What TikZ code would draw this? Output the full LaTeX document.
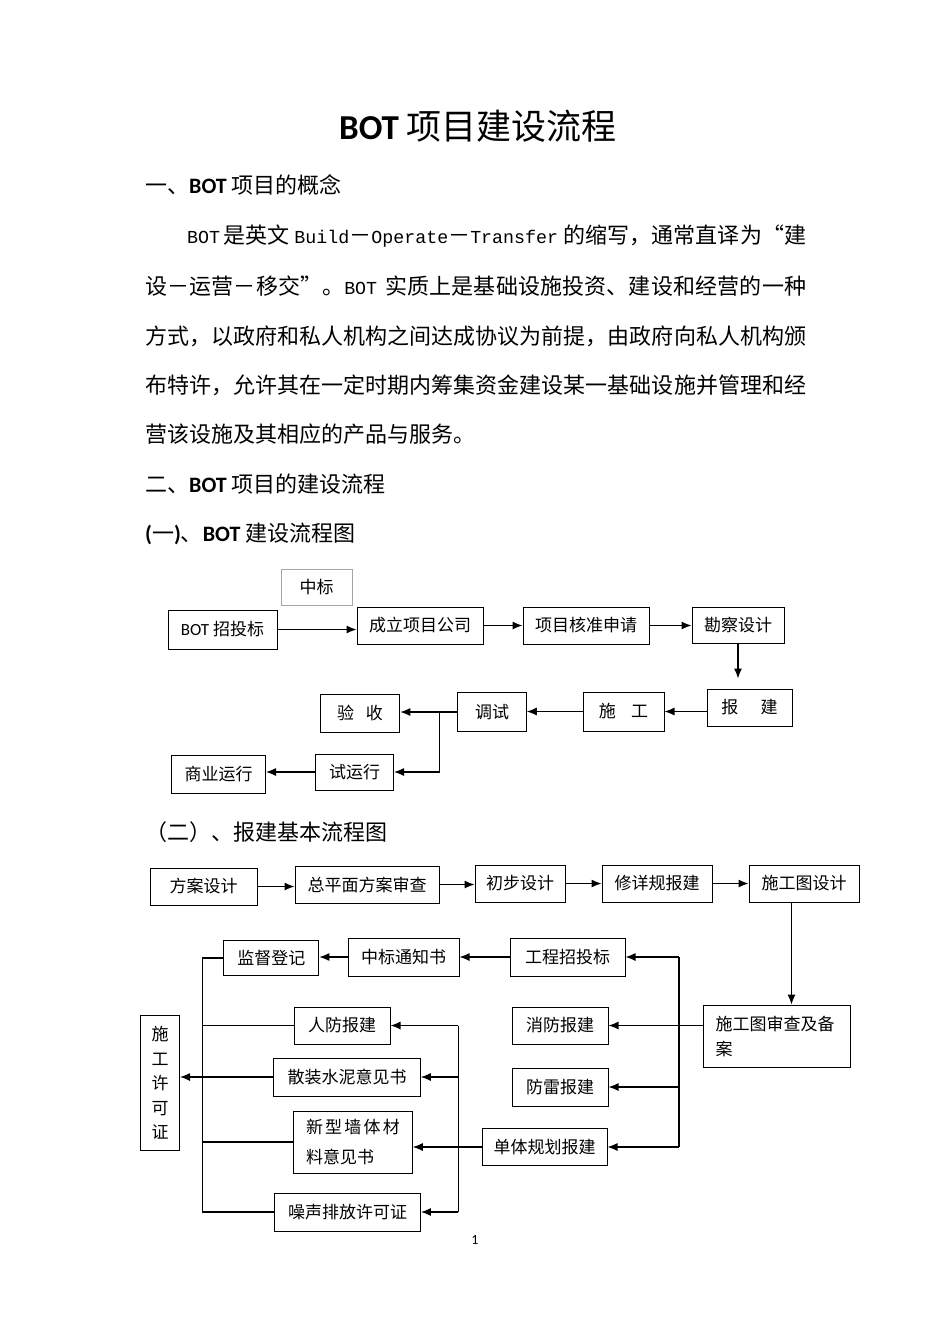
\documentclass[tikz,border=0pt]{standalone}
\usepackage{fontspec}
\setmainfont{Noto Sans CJK SC}
\newfontfamily\hdfont{Carlito}
\newfontfamily\monolat{Liberation Mono}
\usetikzlibrary{arrows.meta}
\XeTeXlinebreaklocale "zh"
\XeTeXlinebreakskip=0pt plus 2pt minus 0.3pt
\newcommand\lat[1]{{\fontsize{18.3}{20}\selectfont\monolat #1}}
\newcommand\jline[1]{\parbox{661pt}{\parfillskip=0pt\rightskip=0pt minus 20pt\relax #1}}

\begin{document}
\begin{tikzpicture}[x=1pt, y=-1pt,
		box/.style={draw, line width=1pt, inner sep=0pt, font=\fontsize{17}{20}\selectfont},
		head/.style={anchor=west, inner sep=0pt, font=\fontsize{22}{26}\selectfont},
		body/.style={anchor=west, inner sep=0pt, font=\fontsize{22}{26}\selectfont},
		link/.style={line width=1.2pt},
		arr/.style={link, -{Latex[length=10pt, width=8pt]}}]
		\fill [white] (0, 0) rectangle (950, 1344);
		\useasboundingbox (0, 0) rectangle (950, 1344);

		\node [font=\fontsize{35}{40}\selectfont] (title) at (478, 126) {{\hdfont\bfseries BOT} 项目建设流程};

		\node [head] (h1) at (145, 185) {一、{\hdfont\bfseries BOT} 项目的概念};
		\node [body] (l1) at (145, 236) {\jline{\hspace*{42pt}\lat{BOT}\hspace{3pt}是英文 \lat{Build}－\lat{Operate}－\lat{Transfer} 的缩写，通常直译为“建}};
		\node [body] (l2) at (145, 286) {\jline{设－运营－移交”。\lat{BOT}\hspace{8pt}实质上是基础设施投资、建设和经营的一种}};
		\node [body] (l3) at (145, 336) {\jline{方式，以政府和私人机构之间达成协议为前提，由政府向私人机构颁}};
		\node [body] (l4) at (145, 385) {\jline{布特许，允许其在一定时期内筹集资金建设某一基础设施并管理和经}};
		\node [body] (l5) at (145, 434) {营该设施及其相应的产品与服务。};
		\node [head] (h2) at (145, 484) {二、{\hdfont\bfseries BOT} 项目的建设流程};
		\node [head] (h3) at (145, 534) {{\hdfont\bfseries (}一{\hdfont\bfseries )}、{\hdfont\bfseries BOT} 建设流程图};

		\node [box, draw=black!35, line width=0.8pt, minimum width=71pt, minimum height=36pt] (zb) at (316.5, 587) {中标};
		\node [box, minimum width=109pt, minimum height=39pt] (bot) at (222.5, 629.5) {{\hdfont BOT} 招投标};
		\node [box, minimum width=126pt, minimum height=37pt] (clgs) at (420, 625.5) {成立项目公司};
		\node [box, minimum width=126pt, minimum height=37pt] (hzsq) at (586, 625.5) {项目核准申请};
		\node [box, minimum width=92pt, minimum height=36pt] (kcsj) at (738, 625) {勘察设计};
		\node [box, minimum width=85pt, minimum height=37pt] (bj) at (749.5, 707.5) {报\hspace{1.3em}建};
		\node [box, minimum width=81pt, minimum height=39pt] (sg) at (623.5, 711.5) {施\hspace{0.9em}工};
		\node [box, minimum width=68.5pt, minimum height=38.6pt] (ts) at (492, 712) {调试};
		\node [box, minimum width=79.5pt, minimum height=38pt] (ys) at (360, 713) {验\hspace{0.7em}收};
		\node [box, minimum width=78pt, minimum height=36pt] (syx) at (354.5, 772) {试运行};
		\node [box, minimum width=94pt, minimum height=38pt] (syyx) at (218.5, 774) {商业运行};
		\coordinate (j) at (439.4, 711.5);

		\draw [arr] (bot.east) -- (bot.east -| clgs.west);
		\draw [arr] (clgs.east) -- (hzsq.west);
		\draw [arr] (hzsq.east) -- (hzsq.east -| kcsj.west);
		\draw [arr, shorten >=10pt] (kcsj.south) -- (kcsj.south |- bj.north);
		\draw [arr] (bj.west |- sg.east) -- (sg.east);
		\draw [arr] (sg.west) -- (sg.west -| ts.east);
		\draw [arr] (ts.west) -- (ts.west -| ys.east);
		\draw [arr] (j) |- (syx.east);
		\draw [arr] (syx.west) -- (syx.west -| syyx.east);

		\node [head] (h4) at (145, 832) {（二）、报建基本流程图};

		\node [box, minimum width=107pt, minimum height=37pt] (fasj) at (203.5, 886.5) {方案设计};
		\node [box, minimum width=144pt, minimum height=37pt] (zpm) at (367, 884.5) {总平面方案审查};
		\node [box, minimum width=90pt, minimum height=37pt] (cbsj) at (520, 883.5) {初步设计};
		\node [box, minimum width=110pt, minimum height=37pt] (xxg) at (657, 883.5) {修详规报建};
		\node [box, minimum width=110pt, minimum height=37pt] (sgtsj) at (804, 883.5) {施工图设计};
		\node [box, minimum width=147pt, minimum height=62pt, text width=122pt, align=left, font=\fontsize{17}{25}\selectfont] (sctsc) at (776.5, 1036) {施工图审查及备\\案};

		\draw [arr] (fasj.east) -- (fasj.east -| zpm.west);
		\draw [arr] (zpm.east) -- (zpm.east -| cbsj.west);
		\draw [arr] (cbsj.east) -- (xxg.west);
		\draw [arr] (xxg.east) -- (sgtsj.west);
		\draw [arr] ([xshift=-12.5pt]sgtsj.south) -- ([xshift=-12.5pt]sgtsj.south |- sctsc.north);

		\node [box, minimum width=115pt, minimum height=38pt] (gczb) at (567.5, 957) {工程招投标};
		\node [box, minimum width=111pt, minimum height=38pt] (zbtz) at (403.5, 957) {中标通知书};
		\node [box, minimum width=95pt, minimum height=35pt] (jddj) at (271.3, 958) {监督登记};
		\node [box, minimum width=96pt, minimum height=37pt] (xf) at (560, 1025.5) {消防报建};
		\node [box, minimum width=96pt, minimum height=38pt] (fl) at (560, 1087) {防雷报建};
		\node [box, minimum width=125pt, minimum height=37pt] (dtgh) at (544.5, 1147) {单体规划报建};

		\node [box, minimum width=96pt, minimum height=37pt] (rf) at (342, 1025.5) {人防报建};
		\node [box, minimum width=146.5pt, minimum height=38pt] (szsn) at (347, 1077) {散装水泥意见书};
		\node [box, minimum width=118.5pt, minimum height=62pt, text width=94pt, align=left, font=\fontsize{17}{30}\selectfont] (xxqt) at (353, 1142) {新\hspace{2.2pt}型\hspace{2.2pt}墙\hspace{2.2pt}体\hspace{2.2pt}材\\料意见书};
		\node [box, minimum width=145.5pt, minimum height=38pt] (zsps) at (347.7, 1212) {噪声排放许可证};
		\node [box, minimum width=39pt, minimum height=135pt, align=center, font=\fontsize{17}{24.5}\selectfont] (sgxk) at (160, 1083) {施\\工\\许\\可\\证};

		\coordinate (rbus) at (679, 957);
		\coordinate (lbus) at (458.3, 1025.5);
		\coordinate (pbus) at (202.3, 958);

		\draw [arr] (gczb.west) -- (gczb.west -| zbtz.east);
		\draw [arr] (zbtz.west) -- (zbtz.west -| jddj.east);
		\draw [arr] (sctsc.west |- xf.east) -- (xf.east);
		\draw [link] (rbus) -- (rbus |- dtgh.east);
		\draw [arr] (rbus) -- (gczb.east);
		\draw [arr] (rbus |- fl.east) -- (fl.east);
		\draw [arr] (rbus |- dtgh.east) -- (dtgh.east);

		\draw [link] (lbus) -- (lbus |- zsps.east);
		\draw [arr] (lbus) -- (rf.east);
		\draw [arr] (lbus |- szsn.east) -- (szsn.east);
		\draw [arr] (dtgh.west) -- (dtgh.west -| xxqt.east);
		\draw [arr] (lbus |- zsps.east) -- (zsps.east);

		\draw [link] (jddj.west) -- (pbus) -- (pbus |- zsps.west) -- (zsps.west);
		\draw [link] (pbus |- rf.west) -- (rf.west);
		\draw [link] (pbus |- xxqt.west) -- (xxqt.west);
		\draw [arr] (szsn.west) -- (szsn.west -| sgxk.east);

		\node [font=\hdfont\fontsize{14}{16}\selectfont] (pg) at (475, 1240) {1};
\end{tikzpicture}
\end{document}
